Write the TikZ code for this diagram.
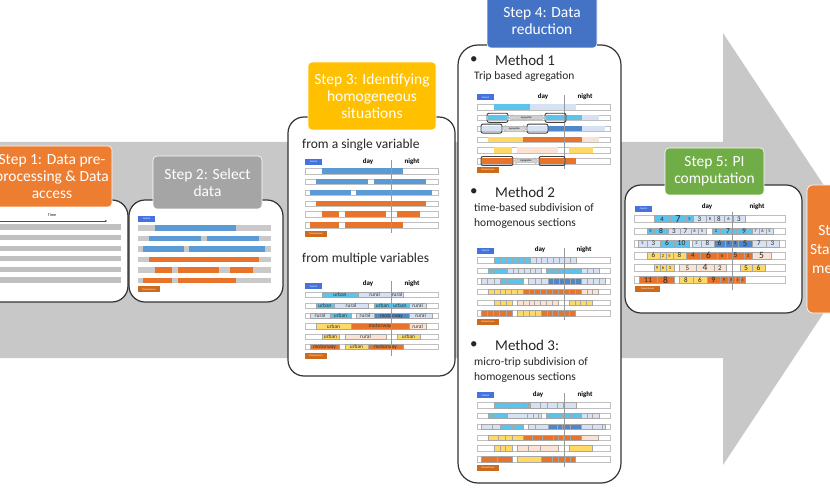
\documentclass[tikz,border=0pt]{standalone}
\usepackage{fontspec}
\setmainfont{Carlito}
\usetikzlibrary{arrows.meta,shapes.arrows}

\definecolor{arrowgray}{HTML}{C8C8C8}
\definecolor{s1col}{HTML}{ED7D31}
\definecolor{s2col}{HTML}{A5A5A5}
\definecolor{s3col}{HTML}{FFC000}
\definecolor{s4col}{HTML}{4472C4}
\definecolor{s5col}{HTML}{70AD47}
\definecolor{rawbar}{HTML}{C0C0C0}
\definecolor{selbar}{HTML}{C9C9C9}
\definecolor{bl}{HTML}{5B9BD5}
\definecolor{cy}{HTML}{5BC3EC}
\definecolor{lb}{HTML}{D6E2F3}
\definecolor{db}{HTML}{4E88CA}
\definecolor{ye}{HTML}{FFD966}
\definecolor{pe}{HTML}{FBE3D3}
\definecolor{orr}{HTML}{E8732A}
\definecolor{ctrl}{HTML}{4473E0}
\definecolor{dstr}{HTML}{CD6A1C}

% segments of the six trips: start/end/row/colour
\newcommand\singlerows{17/98/1/bl, 11/63/2/bl, 69/121/2/bl, 5/46/3/bl, 51/127/3/bl,
  11/121/4/orr, 17/34/5/orr, 40/81/5/orr, 92/115/5/orr, 5/34/6/orr, 40/98/6/orr}
\newcommand\multirows{17/53/1/cy, 53/99/1/lb, 11/30/2/cy, 30/64/2/lb, 69/104/2/cy, 104/122/2/lb,
  4/23/3/lb, 23/46/3/cy, 51/71/3/lb, 71/104/3/db, 104/128/3/lb, 11/46/4/ye, 46/104/4/orr,
  104/121/4/pe, 17/35/5/ye, 40/81/5/pe, 92/115/5/ye, 4/35/6/orr, 40/64/6/ye, 64/98/6/orr}
\newcommand\aggrows{17/53/1/cy, 53/99/1/lb, 11/30/2/cy, 69/89/2/cy, 89/105/2/cy, 105/122/2/lb,
  4/25/3/lb, 51/71/3/lb, 71/105/3/db, 105/128/3/lb, 11/46/4/ye, 46/105/4/orr, 105/122/4/pe,
  17/35/5/ye, 40/81/5/pe, 92/116/5/ye, 4/36/6/orr, 62/99/6/orr}
\newcommand\labrows{17/53/1/cy/urban, 53/86/1/lb/rural, 86/98/1/lb/rural,
  11/29/2/cy/urban, 29/63/2/lb/rural, 69/86/2/cy/urban, 86/104/2/cy/urban, 104/121/2/lb/rural,
  5/25/3/lb/rural, 25/46/3/cy/urban, 51/69/3/lb/rural, 69/104/3/db/motorway, 104/127/3/lb/rural,
  11/46/4/ye/urban, 46/104/4/orr/motorway, 104/121/4/pe/rural,
  17/34/5/ye/urban, 40/81/5/pe/rural, 92/115/5/ye/urban,
  5/34/6/orr/motorway, 40/63/6/ye/urban, 63/98/6/orr/motorway}
\newcommand\microcuts{1/28,1/46,1/51,1/63,1/70,1/80,1/86, 2/15,2/28,2/50,2/56,2/61,2/78,2/85,2/93,2/110,2/115,
  3/15,3/35,3/58,3/80,3/85,3/93,3/115,3/125, 4/21,4/28,4/35,4/55,4/65,4/76,4/81,4/86,4/93,
  5/23,5/28,5/51,5/63, 6/20,6/75,6/81,6/88,6/93}
% PI cells: start/end/row/colour/value/size
\newcommand\picells{654/670/1/cy/4/6.5, 670/686/1/cy/7/10.5, 686/693/1/cy/5/4.5, 693/706/1/lb/3/7,
  706/714/1/lb/8/4.5, 714/724/1/lb/8/7, 724/733/1/lb/6/4.5, 733/745/1/lb/3/7,
  647/654/2/cy/5/4.5, 654/668/2/cy/8/7.5, 668/680/2/lb/3/7, 680/691/2/lb/7/7, 691/698/2/lb/6/4.5,
  698/706/2/lb/5/4.5, 712/720/2/cy/2/4.5, 720/736/2/cy/7/7.5, 736/752/2/cy/9/7.5, 752/759/2/lb/7/4.5,
  759/766/2/lb/6/4.5, 766/773/2/lb/5/4.5,
  638/647/3/lb/5/4.5, 647/660/3/lb/3/7, 660/674/3/cy/6/7.5, 674/689/3/cy/10/7.5, 692/701/3/lb/2/4.5,
  701/714/3/lb/8/7, 714/725/3/db/6/7.5, 725/732/3/db/2/4.5, 732/738/3/db/3/4.5, 738/752/3/db/5/8.5,
  752/766/3/lb/7/7, 766/779/3/lb/3/7,
  647/660/4/ye/6/7, 660/666/4/ye/2/4.5, 666/673/4/ye/5/4.5, 673/686/4/ye/8/7, 686/700/4/orr/4/7,
  700/717/4/orr/6/9.5, 717/727/4/orr/6/4.5, 727/744/4/orr/5/7.5, 744/752/4/orr/3/4.5, 752/771/4/pe/5/9.5,
  654/660/5/ye/9/4.5, 660/666/5/ye/6/4.5, 666/674/5/ye/3/4.5, 679/696/5/pe/5/7, 696/714/5/pe/4/9.5,
  714/726/5/pe/2/7, 740/752/5/ye/5/7.5, 752/765/5/ye/6/7.5,
  639/657/6/orr/11/7.5, 657/674/6/orr/8/9.5, 679/693/6/ye/8/7, 693/707/6/ye/6/7, 707/720/6/orr/9/8,
  720/728/6/orr/9/4.5, 728/735/6/orr/6/4.5, 735/740/6/orr/3/3.5, 740/745/6/orr/6/3.5}

\begin{document}
\begin{tikzpicture}[x=1pt, y=-1pt,
    panel/.style={draw=black!80, line width=1.2pt, fill=white, rounded corners=16pt, inner sep=0pt},
    steptitle/.style={text=white, draw=white, line width=0.6pt, rounded corners=4pt, align=center,
      inner sep=0pt, font=\fontsize{15.5}{17}\selectfont},
    tag/.style={minimum width=17pt, minimum height=6pt, inner sep=0pt, text=white,
      font=\fontsize{2.5}{3}\selectfont},
    bgbar/.style={draw=black!25, fill=white, line width=0.3pt},
    cellline/.style={draw=black!35, line width=0.3pt},
    daynight/.style={inner sep=0pt, font=\bfseries\fontsize{7}{8}\selectfont},
    midline/.style={draw=black!40, line width=0.4pt},
    heading/.style={anchor=west, inner sep=0pt, text=black!85, font=\fontsize{15}{17}\selectfont},
    subhead/.style={anchor=west, inner sep=0pt, align=left, text=black!85,
      font=\fontsize{11.5}{15}\selectfont},
    varlabel/.style={inner sep=0pt, text=black!80, font=\fontsize{5.5}{6}\selectfont},
    hl/.style={draw=black!75, line width=0.9pt, rounded corners=2pt},
    agr/.style={double arrow, fill=black!18, draw=black!30, line width=0.3pt, inner sep=0.6pt,
      minimum width=5pt, double arrow head extend=1.5pt, font=\fontsize{2.5}{3}\selectfont}
]
\useasboundingbox (0,0) rectangle (830,489);
\clip (0,0) rectangle (830,489);

% big process arrow
\fill[arrowgray] (-5,142) -- (723,142) -- (723,33) -- (866,249) -- (723,465) -- (723,358) -- (-5,358) -- cycle;

% panels
\node[panel, minimum width=143pt, minimum height=102pt] (s1box) at (56.5,251) {};
\node[panel, minimum width=154pt, minimum height=102pt] (s2box) at (206,251) {};
\node[panel, minimum width=167pt, minimum height=259pt] (s3box) at (371.5,246.5) {};
\node[panel, minimum width=163pt, minimum height=438pt, rounded corners=20pt] (s4box) at (539.5,264) {};
\node[panel, minimum width=177pt, minimum height=128pt] (s5box) at (713.5,249) {};
\node[steptitle, fill=s1col, minimum width=86pt, minimum height=128pt, rounded corners=6pt] (s6box) at (850,249) {};
\node[text=white, align=center, inner sep=0pt, font=\fontsize{15.5}{19}\selectfont] (s6) at (840,249) {Step 6:\\Statistical\\methods};

% step titles
\node[steptitle, fill=s1col, minimum width=120pt, minimum height=61pt] (s1) at (52,176.5) {Step 1: Data pre-\\processing \& Data\\access};
\node[steptitle, fill=s2col, minimum width=109pt, minimum height=53pt] (s2) at (207.5,182.5) {Step 2: Select\\data};
\node[steptitle, fill=s3col, minimum width=128pt, minimum height=68pt] (s3) at (372,96) {Step 3: Identifying\\homogeneous\\situations};
\node[steptitle, fill=s4col, minimum width=110pt, minimum height=53pt] (s4) at (542,21.5) {Step 4: Data\\reduction};
\node[steptitle, fill=s5col, minimum width=99pt, minimum height=47pt] (s5) at (714.5,171.5) {Step 5: PI\\computation};

% Step 1: raw time series
\node[inner sep=0pt, font=\fontsize{4}{4}\selectfont] (time) at (52,215) {Time};
\coordinate (t0) at (-5,221);
\coordinate (t1) at (107,221);
\draw[black!70, line width=0.4pt, -{Stealth[length=2pt,width=2pt]}] (t0) -- (t1);
\foreach \k in {0,...,5}
  \fill[rawbar] (-5,{227+10.6*\k-2.6}) rectangle (121,{227+10.6*\k+2.6});

% Step 2: selected trips
\begin{scope}[shift={(138,217.5)}, y={(0pt,-10.5pt)}]
  \foreach \row in {1,...,6}
    \fill[selbar] (0,\row-0.27) rectangle (133,\row+0.27);
  \foreach \xa/\xb/\row/\col in \singlerows
    \fill[fill=\col] (\xa,\row-0.27) rectangle (\xb,\row+0.27);
  \node[tag, fill=ctrl] (ctrl2) at (8.5,0.15) {Control};
  \node[tag, fill=dstr, minimum width=22pt] (down2) at (11,6.85) {Downstream};
\end{scope}

% Step 3: single variable
\node[heading, font=\fontsize{13.5}{15}\selectfont] (single) at (302,145) {from a single variable};
\begin{scope}[shift={(305,160.2)}, y={(0pt,-10.8pt)}]
  \foreach \row in {1,...,6}
    \draw[bgbar] (0,\row-0.25) rectangle (133,\row+0.25);
  \foreach \xa/\xb/\row/\col in \singlerows
    \fill[fill=\col] (\xa,\row-0.25) rectangle (\xb,\row+0.25);
  \draw[midline] (86,-0.05) -- (86,6.7);
  \node[tag, fill=ctrl] (ctrl3a) at (8.5,0.15) {Control};
  \node[daynight] (day3a) at (63,0.1) {day};
  \node[daynight] (night3a) at (107,0.1) {night};
  \node[tag, fill=dstr, minimum width=22pt] (down3a) at (11,6.8) {Downstream};
\end{scope}

% Step 3: multiple variables
\node[heading, font=\fontsize{13.5}{15}\selectfont] (multi) at (302,259) {from multiple variables};
\begin{scope}[shift={(305,284.6)}, y={(0pt,-10.4pt)}]
  \foreach \row in {1,...,6}
    \draw[bgbar] (0,\row-0.25) rectangle (133,\row+0.25);
  \foreach \xa/\xb/\row/\col/\txt in \labrows {
    \filldraw[fill=\col, cellline] (\xa,\row-0.25) rectangle (\xb,\row+0.25);
    \node[varlabel] (lab\row-\xa) at ({(\xa+\xb)/2},\row) {\txt};
  }
  \draw[midline] (86,-0.3) -- (86,6.9);
  \node[tag, fill=ctrl] (ctrl3b) at (8.5,0.15) {Control};
  \node[daynight] (day3b) at (63,-0.05) {day};
  \node[daynight] (night3b) at (107,-0.05) {night};
  \node[tag, fill=dstr, minimum width=22pt] (down3b) at (11,6.87) {Downstream};
\end{scope}

% Step 4, method 1
\node[heading] (m1dot) at (470,60) {\textbullet};
\node[heading] (m1) at (495,60) {Method 1};
\node[subhead] (m1sub) at (474,76) {Trip based agregation};
\begin{scope}[shift={(477,96.2)}, y={(0pt,-10.8pt)}]
  \foreach \row in {1,...,6}
    \draw[bgbar] (0,\row-0.25) rectangle (133,\row+0.25);
  \foreach \xa/\xb/\row/\col in \aggrows
    \fill[fill=\col] (\xa,\row-0.25) rectangle (\xb,\row+0.25);
  \draw[midline] (87,-0.1) -- (87,6.7);
  \foreach \xa/\xb/\row in {10/31/2, 68/89/2, 4/25/3, 50/71/3, 4/36/6, 62/88/6}
    \draw[hl] (\xa,\row-0.42) rectangle (\xb,\row+0.42);
  \node[agr, minimum height=35pt] (agr1) at (49.5,2) {Agregation};
  \node[agr, minimum height=24pt] (agr2) at (37.5,3) {Agregation};
  \node[agr, minimum height=25pt] (agr3) at (49,6) {Agregation};
  \node[tag, fill=ctrl] (ctrl4a) at (8.5,0.1) {Control};
  \node[daynight] (day4a) at (66,0) {day};
  \node[daynight] (night4a) at (108,0) {night};
  \node[tag, fill=dstr, minimum width=22pt] (down4a) at (11,6.85) {Downstream};
\end{scope}

% Step 4, method 2
\node[heading] (m2dot) at (470,192) {\textbullet};
\node[heading] (m2) at (495,192) {Method 2};
\node[subhead] (m2sub) at (474,215.5) {time-based subdivision of\\homogenous sections};
\begin{scope}[shift={(477,249.4)}, y={(0pt,-10.6pt)}]
  \foreach \row in {1,...,6}
    \draw[bgbar] (0,\row-0.25) rectangle (133,\row+0.25);
  \foreach \xa/\xb/\row/\col in \multirows {
    \filldraw[fill=\col, cellline] (\xa,\row-0.25) rectangle (\xb,\row+0.25);
    \pgfmathtruncatemacro\nc{round((\xb-\xa)/6)}
    \foreach \i in {1,...,\nc}
      \draw[cellline] ({\xa+\i*(\xb-\xa)/\nc},\row-0.25) -- ({\xa+\i*(\xb-\xa)/\nc},\row+0.25);
  }
  \draw[midline] (87,-0.1) -- (87,6.7);
  \node[tag, fill=ctrl] (ctrl4b) at (8.5,0.15) {Control};
  \node[daynight] (day4b) at (63,0.05) {day};
  \node[daynight] (night4b) at (107,0.05) {night};
  \node[tag, fill=dstr, minimum width=22pt] (down4b) at (11,6.85) {Downstream};
\end{scope}

% Step 4, method 3
\node[heading] (m3dot) at (470,345) {\textbullet};
\node[heading] (m3) at (495,345) {Method 3:};
\node[subhead] (m3sub) at (474,370) {micro-trip subdivision of\\homogenous sections};
\begin{scope}[shift={(477,394.2)}, y={(0pt,-10.8pt)}]
  \foreach \row in {1,...,6}
    \draw[bgbar] (0,\row-0.25) rectangle (133,\row+0.25);
  \foreach \xa/\xb/\row/\col in \multirows
    \filldraw[fill=\col, cellline] (\xa,\row-0.25) rectangle (\xb,\row+0.25);
  \foreach \row/\xa in \microcuts
    \draw[cellline] (\xa,\row-0.25) -- (\xa,\row+0.25);
  \draw[midline] (87,-0.1) -- (87,6.7);
  \node[tag, fill=ctrl] (ctrl4c) at (8.5,0.1) {Control};
  \node[daynight] (day4c) at (61,0) {day};
  \node[daynight] (night4c) at (108,0) {night};
  \node[tag, fill=dstr, minimum width=22pt] (down4c) at (11,6.8) {Downstream};
\end{scope}

% Step 5: performance indicators
\begin{scope}[shift={(0,206.8)}, y={(0pt,-12.2pt)}]
  \foreach \row in {1,...,6}
    \draw[bgbar] (634,\row-0.28) rectangle (785,\row+0.28);
  \foreach \xa/\xb/\row/\col/\txt/\fs in \picells {
    \filldraw[fill=\col, cellline] (\xa,\row-0.28) rectangle (\xb,\row+0.28);
    \node[inner sep=0pt, text=black!85, font=\fontsize{\fs}{\fs}\selectfont] (pi\row-\xa) at ({(\xa+\xb)/2},\row) {\txt};
  }
  \draw[midline] (732,0.4) -- (732,6.8);
  \node[tag, fill=ctrl] (ctrl5) at (643.5,0.18) {Control};
  \node[daynight] (day5) at (707,0) {day};
  \node[daynight] (night5) at (757,0) {night};
  \node[tag, fill=dstr, minimum width=25pt] (down5) at (647.5,6.75) {Downstream};
\end{scope}

\end{tikzpicture}
\end{document}
